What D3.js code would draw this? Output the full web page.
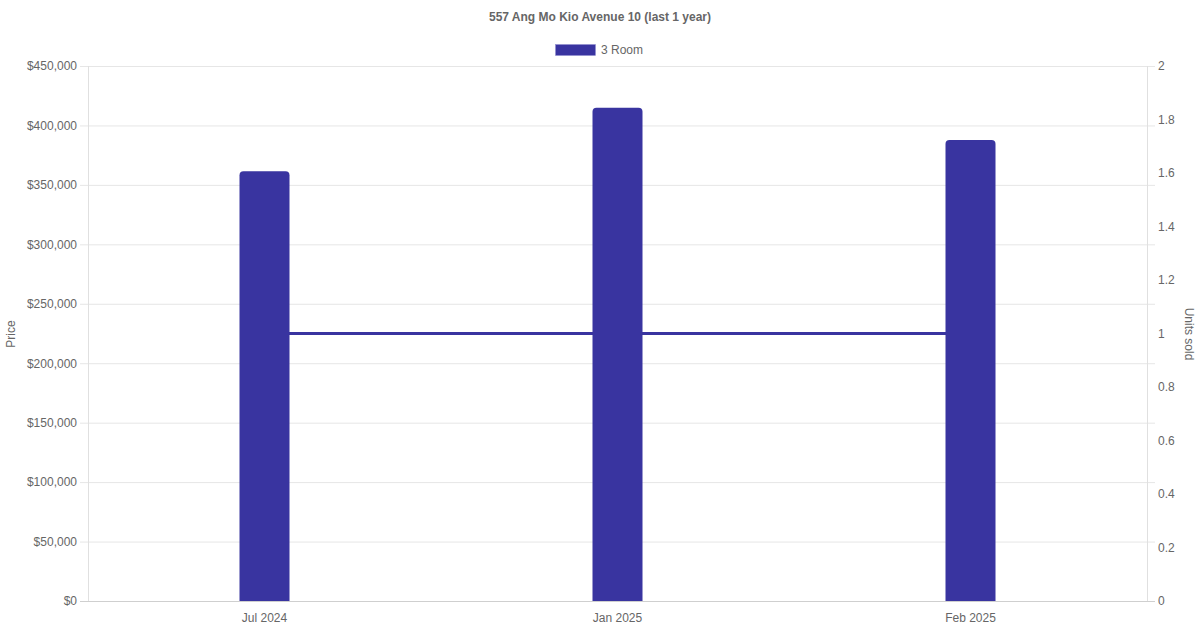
<!DOCTYPE html>
<html><head><meta charset="utf-8">
<script src="https://cdn.jsdelivr.net/npm/d3@7"></script>
<style>body{margin:0;background:#fff}svg{display:block;font-family:"Liberation Sans",Arial,Helvetica,sans-serif}</style>
</head><body><svg id="c" width="1200" height="630"></svg>
<script>
const categories = ["Jul 2024", "Jan 2025", "Feb 2025"];
const priceValues = [361500, 414800, 387800];
const unitsValues = [1, 1, 1];
const priceTicks = [0, 50000, 100000, 150000, 200000, 250000, 300000, 350000, 400000, 450000];
const unitTicks = [0, 0.2, 0.4, 0.6, 0.8, 1, 1.2, 1.4, 1.6, 1.8, 2];
const seriesName = "3 Room";
const titleText = "557 Ang Mo Kio Avenue 10 (last 1 year)";

const color = "#3934a0";
const svg = d3.select("#c");
const L = 88, R = 1147, T = 66, B = 601;

const x = d3.scaleBand().domain(categories).range([L, R]);
const yL = d3.scaleLinear().domain([0, 450000]).range([B, T]);
const yR = d3.scaleLinear().domain([0, 2]).range([B, T]);

// grid
svg.append("g").selectAll("line").data(priceTicks).join("line")
  .attr("x1", L - 8).attr("x2", R + 8)
  .attr("y1", d => yL(d) + 0.5).attr("y2", d => yL(d) + 0.5)
  .attr("stroke", d => d === 0 ? "#cfcfcf" : "#e6e6e6").attr("stroke-width", 1);
// vertical axis lines
svg.append("line").attr("x1", L + 0.5).attr("x2", L + 0.5).attr("y1", T).attr("y2", B)
  .attr("stroke", "#e0e0e0");
svg.append("line").attr("x1", R + 0.5).attr("x2", R + 0.5).attr("y1", T).attr("y2", B)
  .attr("stroke", "#e0e0e0");

// left axis
const fmt = d => "$" + d3.format(",")(d);
const gl = svg.append("g").attr("transform", `translate(${L - 8},0)`)
  .call(d3.axisLeft(yL).tickValues(priceTicks).tickFormat(fmt).tickSize(0).tickPadding(3));
gl.select(".domain").remove();
gl.selectAll("text").attr("fill", "#666").style("font-size", "12px").style("font-family", "Liberation Sans, Arial, sans-serif");

// right axis
const gr = svg.append("g").attr("transform", `translate(${R + 8},0)`)
  .call(d3.axisRight(yR).tickValues(unitTicks).tickFormat(d => d3.format("~g")(d)).tickSize(0).tickPadding(3));
gr.select(".domain").remove();
gr.selectAll("text").attr("fill", "#666").style("font-size", "12px").style("font-family", "Liberation Sans, Arial, sans-serif");

// bottom axis
const gb = svg.append("g").attr("transform", `translate(0,${B})`)
  .call(d3.axisBottom(x).tickSize(0).tickPadding(12));
gb.select(".domain").remove();
gb.selectAll("text").attr("fill", "#666").style("font-size", "12px").style("font-family", "Liberation Sans, Arial, sans-serif");

// line (behind bars)
const line = d3.line().x((d, i) => x(categories[i]) + x.bandwidth() / 2).y(d => yR(d));
svg.append("path").datum(unitsValues).attr("d", line)
  .attr("fill", "none").attr("stroke", color).attr("stroke-width", 3);

// bars with rounded tops
const bw = 50, r = 4;
svg.append("g").selectAll("path").data(priceValues).join("path")
  .attr("fill", color)
  .attr("d", (d, i) => {
    const cx = x(categories[i]) + x.bandwidth() / 2;
    const x0 = cx - bw / 2, x1 = cx + bw / 2, y0 = yL(d), y1 = B;
    return `M${x0},${y1}V${y0 + r}Q${x0},${y0} ${x0 + r},${y0}H${x1 - r}Q${x1},${y0} ${x1},${y0 + r}V${y1}Z`;
  });

// title
svg.append("text").attr("x", 600).attr("y", 21).attr("text-anchor", "middle")
  .attr("fill", "#666").style("font-size", "12px").style("font-weight", "bold").text(titleText);

// legend
svg.append("rect").attr("x", 555.5).attr("y", 44.5).attr("width", 40).attr("height", 11)
  .attr("fill", color).attr("stroke", "#8f8cd0").attr("stroke-width", 0.5);
svg.append("text").attr("x", 601).attr("y", 54).attr("fill", "#666").style("font-size", "12px").text(seriesName);

// axis titles
svg.append("text").attr("transform", "translate(15,334) rotate(-90)").attr("text-anchor", "middle")
  .attr("fill", "#666").style("font-size", "12px").text("Price");
svg.append("text").attr("transform", "translate(1185,334) rotate(90)").attr("text-anchor", "middle")
  .attr("fill", "#666").style("font-size", "12px").text("Units sold");
</script></body></html>
